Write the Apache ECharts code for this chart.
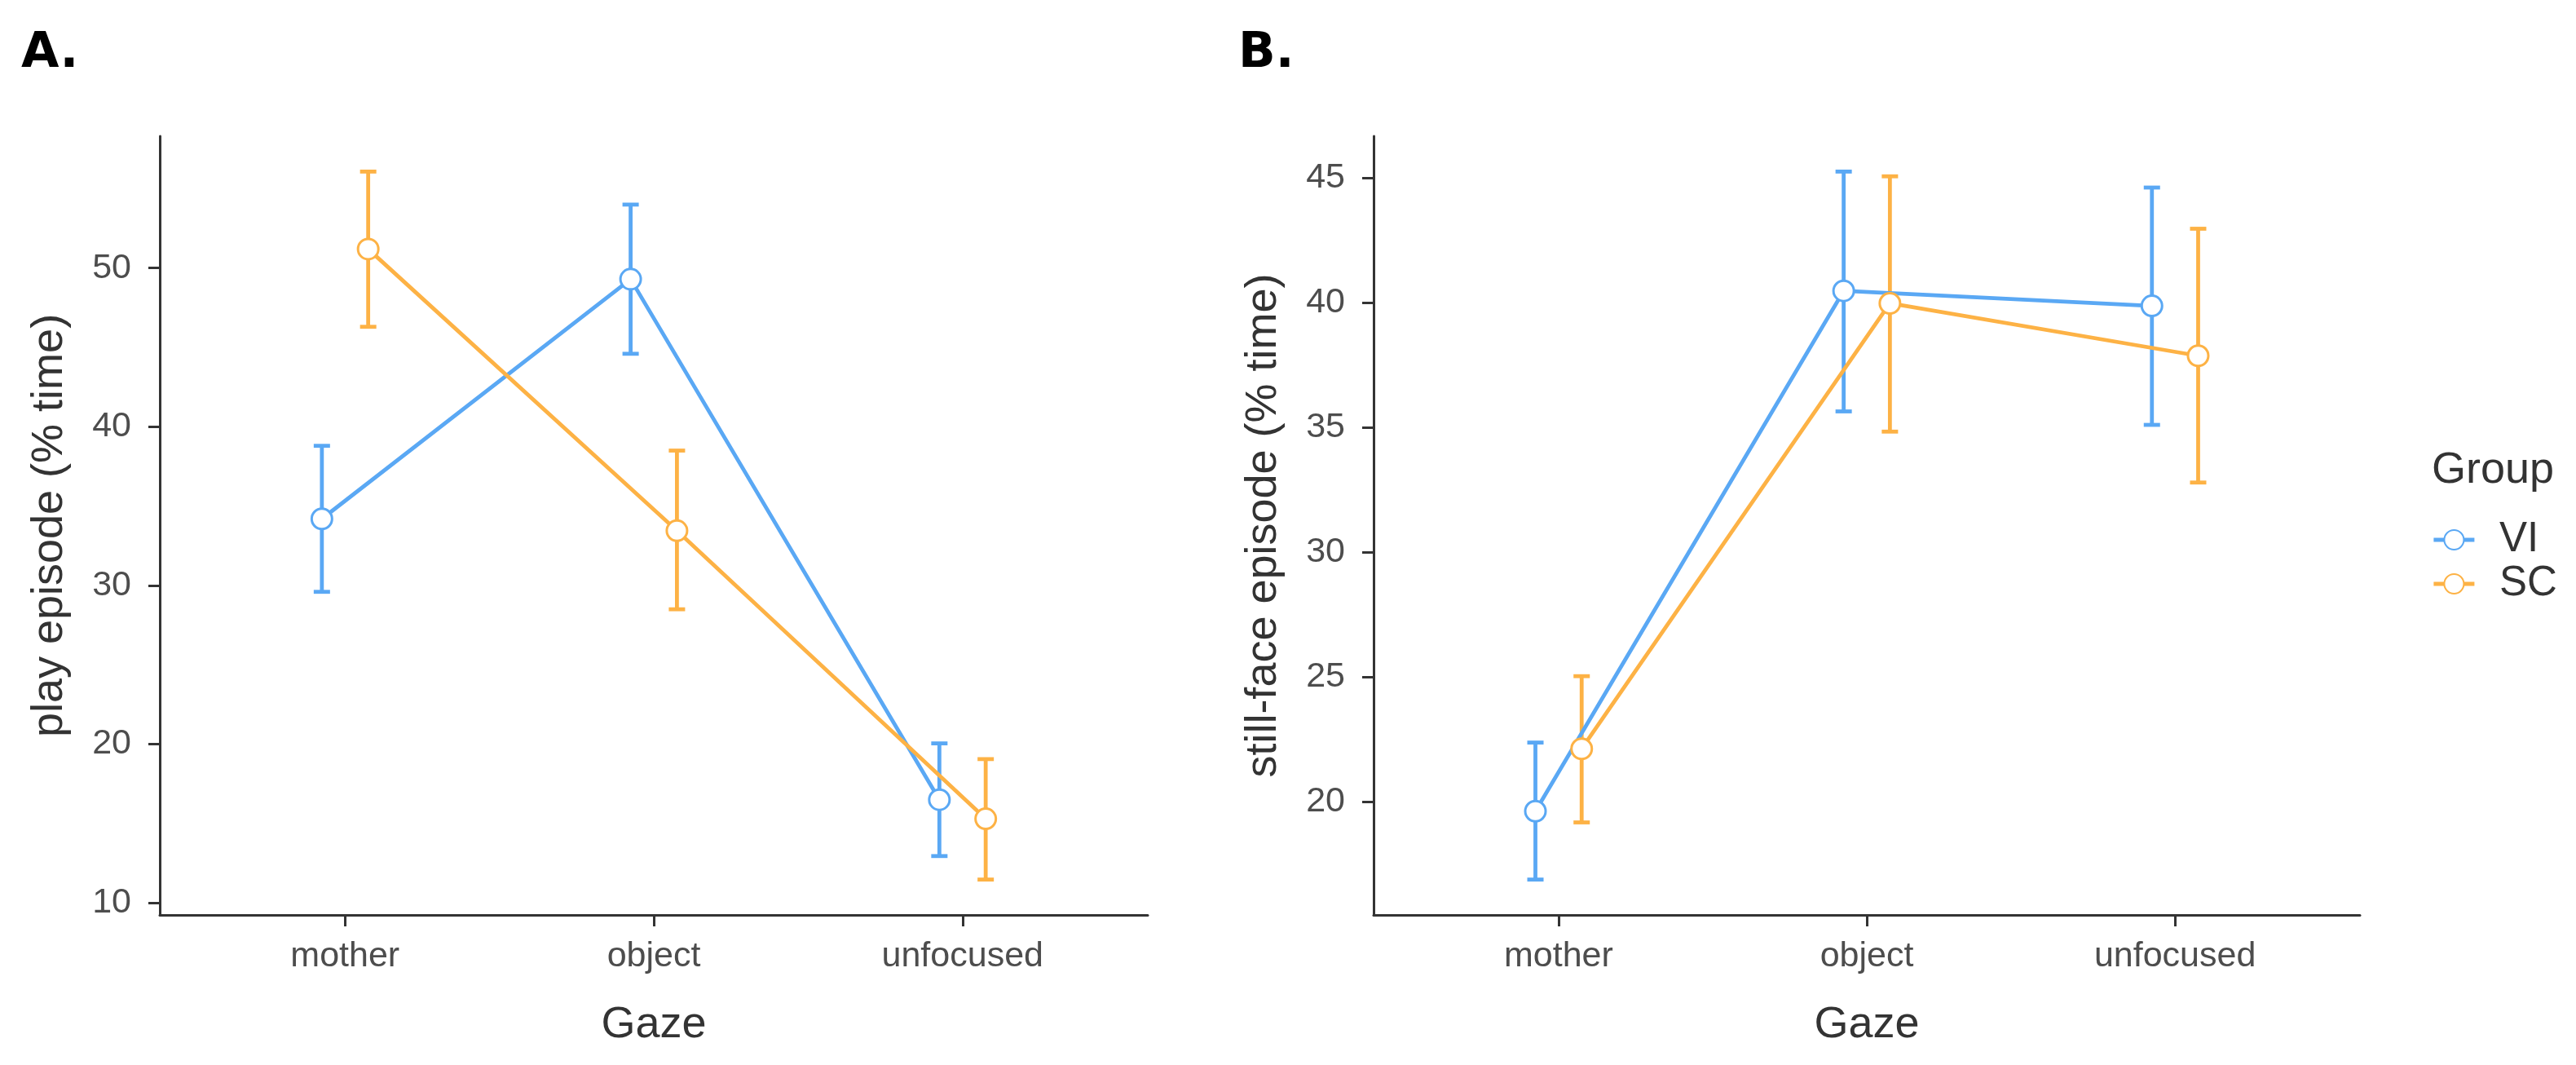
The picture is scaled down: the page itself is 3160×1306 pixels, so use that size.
<!DOCTYPE html>
<html>
<head>
<meta charset="utf-8">
<script src="https://cdn.jsdelivr.net/npm/echarts@6/dist/echarts.min.js"></script>
<style>
html,body{margin:0;padding:0;background:#fff;}
#chart{width:3160px;height:1306px;}
</style>
</head>
<body>
<div id="chart"></div>
<script>
// ---- data ----
const categories = ['mother', 'object', 'unfocused'];
const groups = ['VI', 'SC'];

// Panel A: play episode (% time)
const playVI     = [34.2, 49.3, 16.5];
const playVILow  = [29.6, 44.6, 12.95];
const playVIHigh = [38.8, 54.0, 20.05];
const playSC     = [51.2, 33.45, 15.3];
const playSCLow  = [46.3, 28.5, 11.47];
const playSCHigh = [56.08, 38.5, 19.06];
const playTicks  = [10, 20, 30, 40, 50];

// Panel B: still-face episode (% time)
const stillVI     = [19.62, 40.47, 39.87];
const stillVILow  = [16.88, 35.64, 35.10];
const stillVIHigh = [22.37, 45.25, 44.61];
const stillSC     = [22.12, 39.97, 37.87];
const stillSCLow  = [19.17, 34.83, 32.79];
const stillSCHigh = [25.03, 45.06, 42.96];
const stillTicks  = [20, 25, 30, 35, 40, 45];

// ---- style ----
const BLUE = '#5AA8F4';
const ORANGE = '#FDB245';
const DODGE = 0.075;
const FONT = 'Liberation Sans';
const LW = 4.8;

function range(lows, highs) {
  const lo = Math.min(...lows), hi = Math.max(...highs);
  const pad = (hi - lo) * 0.05;
  return [lo - pad, hi + pad];
}
const playRange = range(playVILow.concat(playSCLow), playVIHigh.concat(playSCHigh));
const stillRange = range(stillVILow.concat(stillSCLow), stillVIHigh.concat(stillSCHigh));

function pts(vals, off) { return vals.map((v, i) => [i + 1 + off, v]); }
function bars(lows, highs, off) { return lows.map((l, i) => [i + 1 + off, l, highs[i]]); }

function errRender(color) {
  return function (params, api) {
    const x = api.value(0);
    const p1 = api.coord([x, api.value(1)]);
    const p2 = api.coord([x, api.value(2)]);
    const hw = 10;
    const st = { stroke: color, lineWidth: LW };
    return {
      type: 'group',
      children: [
        { type: 'line', shape: { x1: p1[0], y1: p1[1], x2: p2[0], y2: p2[1] }, style: st },
        { type: 'line', shape: { x1: p1[0] - hw, y1: p1[1], x2: p1[0] + hw, y2: p1[1] }, style: st },
        { type: 'line', shape: { x1: p2[0] - hw, y1: p2[1], x2: p2[0] + hw, y2: p2[1] }, style: st }
      ]
    };
  };
}

function xAxis(gi) {
  return {
    type: 'value', gridIndex: gi, min: 0.4, max: 3.6,
    name: 'Gaze', nameLocation: 'middle', nameGap: 108,
    nameTextStyle: { fontFamily: FONT, fontSize: 54, color: '#333', lineHeight: 54 },
    axisLine: { show: true, onZero: false, lineStyle: { color: '#333', width: 3 } },
    axisTick: { show: true, length: 14, lineStyle: { color: '#333', width: 3 }, customValues: [1, 2, 3] },
    axisLabel: { fontFamily: FONT, fontSize: 43, color: '#4d4d4d', margin: 30, lineHeight: 43,
      customValues: [1, 2, 3], formatter: v => categories[Math.round(v) - 1] || '' },
    splitLine: { show: false }
  };
}
function yAxis(gi, name, r, ticks) {
  return {
    type: 'value', gridIndex: gi, min: r[0], max: r[1],
    name: name, nameLocation: 'middle', nameGap: 108, nameRotate: 90,
    nameTextStyle: { fontFamily: FONT, fontSize: 54, color: '#333', lineHeight: 54 },
    axisLine: { show: true, lineStyle: { color: '#333', width: 3 } },
    axisTick: { show: true, length: 14, lineStyle: { color: '#333', width: 3 }, customValues: ticks },
    axisLabel: { fontFamily: FONT, fontSize: 43, color: '#4d4d4d', margin: 35, customValues: ticks },
    splitLine: { show: false }
  };
}

function lineSeries(name, gi, data, color, z) {
  return {
    type: 'line', name: name, xAxisIndex: gi, yAxisIndex: gi, data: data,
    symbol: 'circle', symbolSize: 25, showSymbol: true, z: z,
    lineStyle: { color: color, width: LW },
    itemStyle: { color: '#fff', borderColor: color, borderWidth: 3 },
    emphasis: { disabled: true }, animation: false
  };
}
function errSeries(gi, data, color) {
  return {
    type: 'custom', xAxisIndex: gi, yAxisIndex: gi, data: data, z: 1,
    renderItem: errRender(color), animation: false, silent: true
  };
}

const chart = echarts.init(document.getElementById('chart'), null, { renderer: 'canvas' });
chart.setOption({
  backgroundColor: '#fff',
  animation: false,
  title: [
    { text: 'A.', left: 21, top: 31, textStyle: { fontFamily: 'DejaVu Sans', fontWeight: 'bold', fontSize: 60, color: '#000', lineHeight: 60 } },
    { text: 'B.', left: 1514, top: 31, textStyle: { fontFamily: 'DejaVu Sans', fontWeight: 'bold', fontSize: 60, color: '#000', lineHeight: 60 } },
    { text: 'Group', left: 2978, top: 545, textStyle: { fontFamily: FONT, fontWeight: 'normal', fontSize: 54, color: '#333', lineHeight: 54 } }
  ],
  legend: {
    orient: 'vertical', left: 2978, top: 631, data: groups,
    itemWidth: 50, itemHeight: 30, itemGap: 2,
    lineStyle: { width: LW },
    formatter: name => '\u2002' + name,
    textStyle: { fontFamily: FONT, fontSize: 51, color: '#333', lineHeight: 52 },
    selectedMode: false
  },
  grid: [
    { left: 196, top: 167, width: 1212, height: 955 },
    { left: 1685, top: 167, width: 1210, height: 955 }
  ],
  xAxis: [xAxis(0), xAxis(1)],
  yAxis: [
    yAxis(0, 'play episode (% time)', playRange, playTicks),
    yAxis(1, 'still-face episode (% time)', stillRange, stillTicks)
  ],
  series: [
    errSeries(0, bars(playVILow, playVIHigh, -DODGE), BLUE),
    errSeries(0, bars(playSCLow, playSCHigh, DODGE), ORANGE),
    lineSeries('VI', 0, pts(playVI, -DODGE), BLUE, 2),
    lineSeries('SC', 0, pts(playSC, DODGE), ORANGE, 3),
    errSeries(1, bars(stillVILow, stillVIHigh, -DODGE), BLUE),
    errSeries(1, bars(stillSCLow, stillSCHigh, DODGE), ORANGE),
    lineSeries('VI', 1, pts(stillVI, -DODGE), BLUE, 2),
    lineSeries('SC', 1, pts(stillSC, DODGE), ORANGE, 3)
  ]
});
</script>
</body>
</html>
